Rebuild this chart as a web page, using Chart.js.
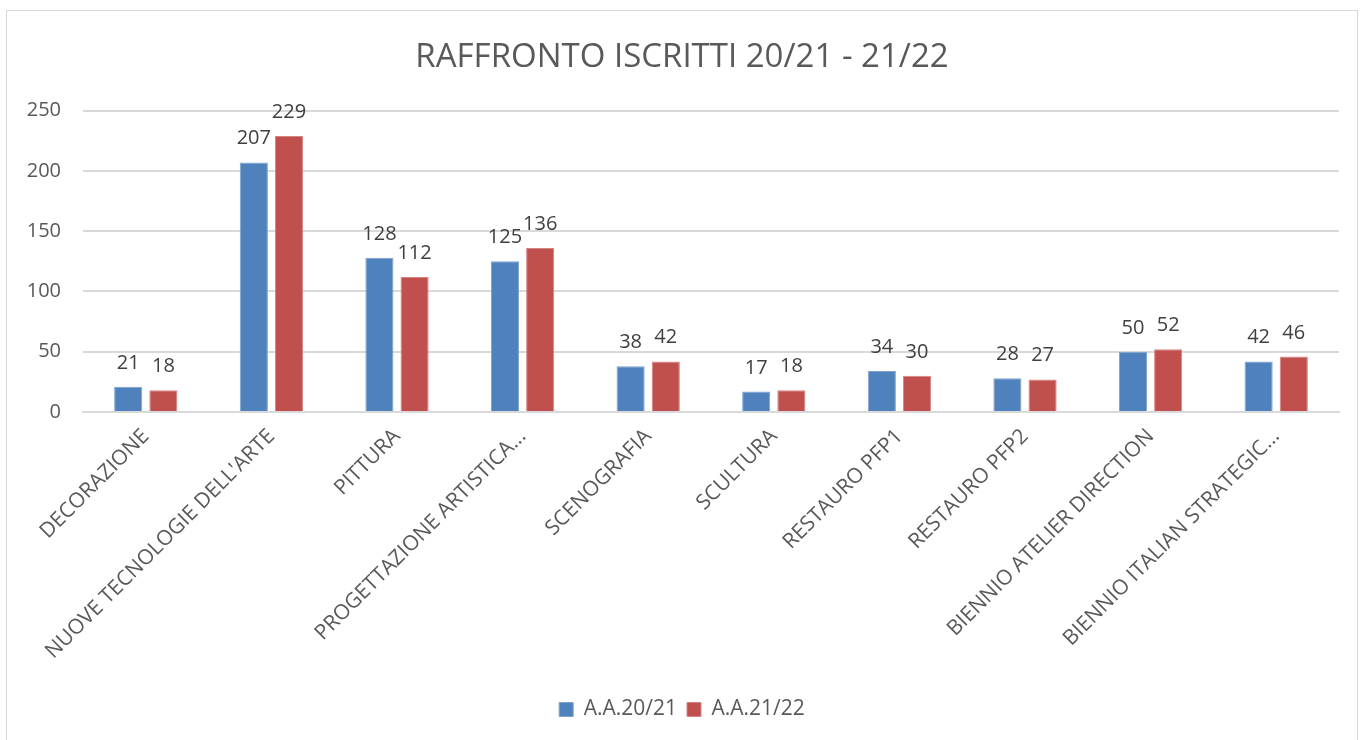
<!DOCTYPE html>
<html>
<head>
<meta charset="utf-8">
<script src="https://cdn.jsdelivr.net/npm/chart.js@4"></script>
<style>
  body { margin: 0; background: #fff; }
  #box {
    position: absolute; left: 6px; top: 10px;
    width: 1352px; height: 740px;
    border: 1px solid #d9d9d9; box-sizing: border-box;
  }
</style>
</head>
<body>
<div id="box"><canvas id="chart"></canvas></div>
<script>
    // Categories and values
    const categories = [
        'DECORAZIONE',
        "NUOVE TECNOLOGIE DELL'ARTE",
        'PITTURA',
        'PROGETTAZIONE ARTISTICA...',
        'SCENOGRAFIA',
        'SCULTURA',
        'RESTAURO PFP1',
        'RESTAURO PFP2',
        'BIENNIO ATELIER DIRECTION',
        'BIENNIO ITALIAN STRATEGIC...'
    ];
    const iscritti2021 = [21, 207, 128, 125, 38, 17, 34, 28, 50, 42];
    const iscritti2122 = [18, 229, 112, 136, 42, 18, 30, 27, 52, 46];
    const yTicks = [0, 50, 100, 150, 200, 250];

    const fontFamily = "'Open Sans', 'Liberation Sans', sans-serif";

    // Draws the value above each bar
    const valueLabels = {
        id: 'valueLabels',
        afterDatasetsDraw(chart) {
            const ctx = chart.ctx;
            ctx.save();
            ctx.font = '20px ' + fontFamily;
            ctx.fillStyle = '#404040';
            ctx.textAlign = 'center';
            ctx.textBaseline = 'alphabetic';
            chart.data.datasets.forEach((ds, i) => {
                chart.getDatasetMeta(i).data.forEach((bar, j) => {
                    ctx.fillText(ds.data[j], bar.x, bar.y - 18);
                });
            });
            ctx.restore();
        }
    };

    const ctx = document.getElementById('chart').getContext('2d');
    new Chart(ctx, {
        type: 'bar',
        data: {
            labels: categories,
            datasets: [
                {
                    label: 'A.A.20/21',
                    data: iscritti2021,
                    backgroundColor: '#4f81bd',
                    borderColor: '#7da2d0',
                    borderWidth: 1
                },
                {
                    label: 'A.A.21/22',
                    data: iscritti2122,
                    backgroundColor: '#c0504d',
                    borderColor: '#d68482',
                    borderWidth: 1
                }
            ]
        },
        options: {
            responsive: true,
            maintainAspectRatio: false,
            animation: false,
            categoryPercentage: 0.56,
            barPercentage: 0.8,
            layout: { padding: { left: 18, right: 18, top: 10, bottom: 19 } },
            plugins: {
                title: {
                    display: true,
                    text: 'RAFFRONTO ISCRITTI 20/21 - 21/22',
                    color: '#595959',
                    font: { family: fontFamily, size: 33, weight: 'normal' },
                    padding: { top: 17, bottom: 33 }
                },
                legend: {
                    position: 'bottom',
                    labels: {
                        color: '#595959',
                        font: { family: fontFamily, size: 21 },
                        boxWidth: 14,
                        boxHeight: 14,
                        padding: 10
                    }
                },
                tooltip: { enabled: false }
            },
            scales: {
                x: {
                    grid: { display: false },
                    border: { display: true, color: '#d9d9d9', width: 2 },
                    afterFit: s => { s.height += 21; s.paddingLeft = 0; s.paddingRight = 0; },
                    ticks: {
                        autoSkip: false,
                        maxRotation: 45,
                        minRotation: 45,
                        color: '#595959',
                        font: { family: fontFamily, size: 21 },
                        padding: 4
                    }
                },
                y: {
                    min: 0,
                    max: 250,
                    afterBuildTicks: axis => { axis.ticks = yTicks.map(v => ({ value: v })); },
                    afterFit: s => { s.width = 58; },
                    grid: { color: '#d9d9d9', lineWidth: 2, drawTicks: false },
                    border: { display: false },
                    ticks: {
                        color: '#595959',
                        font: { family: fontFamily, size: 20 },
                        padding: 22
                    }
                }
            }
        },
        plugins: [valueLabels]
    });
</script>
</body>
</html>
